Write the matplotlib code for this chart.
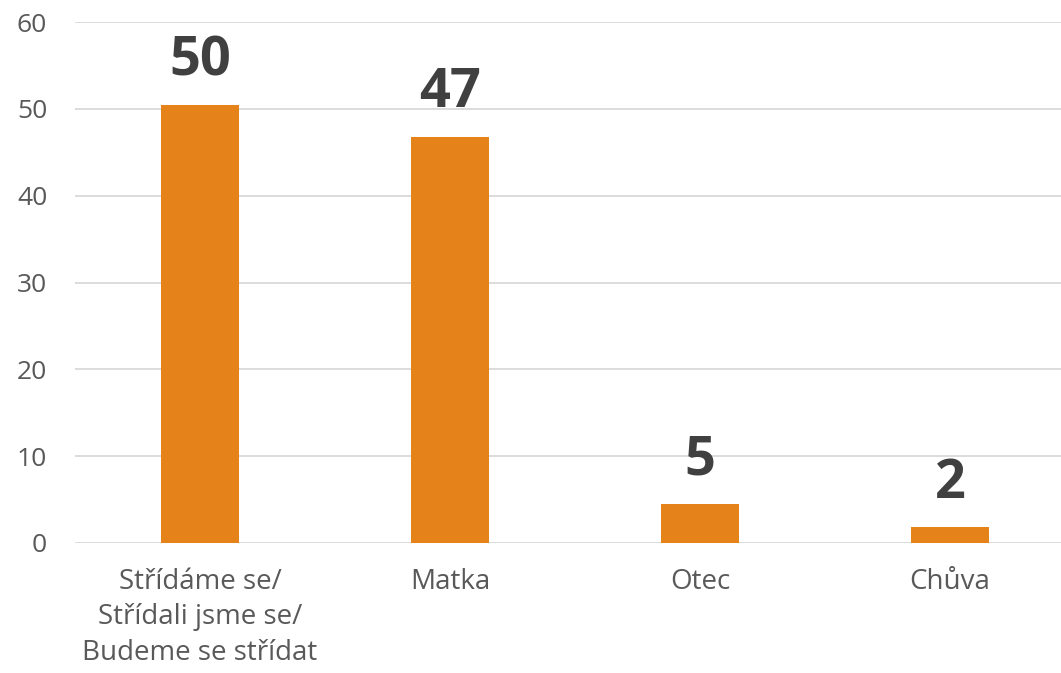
import matplotlib.pyplot as plt
import numpy as np

CATEGORIES = ["Střídáme se/\nStřídali jsme se/\nBudeme se střídat", "Matka", "Otec", "Chůva"]
VALUES = [50.4, 46.8, 4.5, 1.8]
VALUE_LABELS = ["50", "47", "5", "2"]
Y_TICKS = [0, 10, 20, 30, 40, 50, 60]

BAR_COLOR = "#E6821A"
GRID_COLOR = "#D9D9D9"

plt.rcParams["font.family"] = ["Open Sans", "DejaVu Sans"]

fig = plt.figure(figsize=(10.61, 6.73), dpi=100)
ax = fig.add_axes([75 / 1061, 130 / 673, 1 - 75 / 1061, 521 / 673])

x = np.arange(len(CATEGORIES))
ax.bar(x, VALUES, width=0.312, color=BAR_COLOR, zorder=3)

# value labels above bars
for xi, val, label in zip(x, VALUES, VALUE_LABELS):
    ax.annotate(label, (xi, val), xytext=(0, 12), textcoords="offset points",
                ha="center", va="bottom", fontsize=39, fontweight="bold", color="#404040")

ax.set_xlim(-0.5, 3.5 - 14 / 250)
ax.set_ylim(0, 60)
ax.set_yticks(Y_TICKS)
ax.set_xticks(x, labels=CATEGORIES)
for lbl in ax.get_xticklabels():
    lbl.set_linespacing(1.35)
ax.grid(axis="y", color=GRID_COLOR, linewidth=1.3, zorder=0)
for spine in ax.spines.values():
    spine.set_visible(False)
ax.tick_params(axis="y", length=0, pad=20, labelsize=19, labelcolor="#595959")
ax.tick_params(axis="x", length=0, pad=18, labelsize=20, labelcolor="#595959")

fig.savefig("out.png", dpi=100)
